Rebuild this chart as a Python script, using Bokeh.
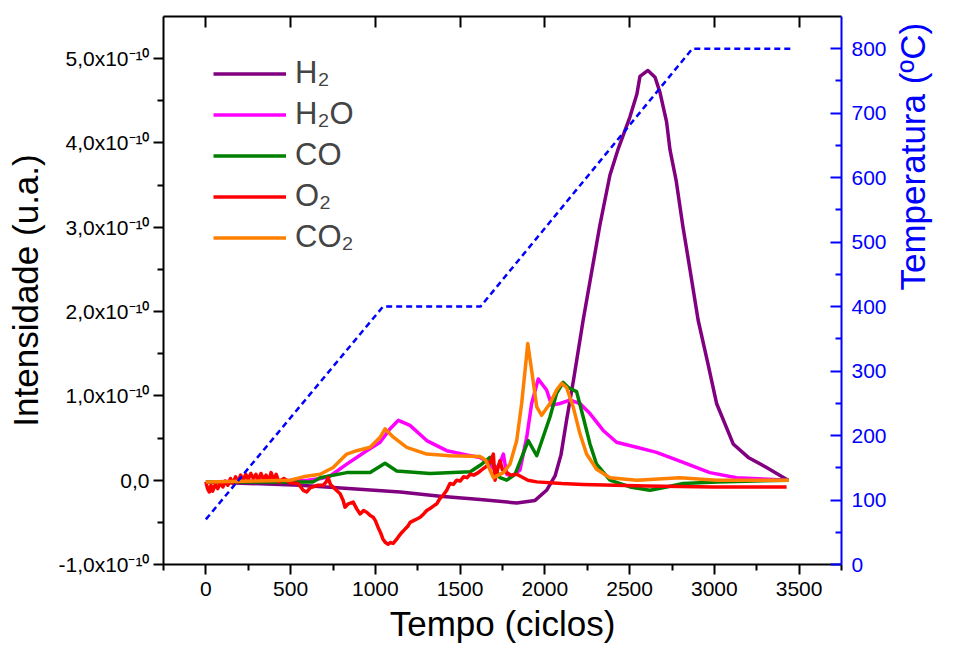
import math
from bokeh.plotting import figure
from bokeh.models import (Range1d, LinearAxis, FixedTicker, CustomJSTickFormatter,
                          Legend, LegendItem)
from bokeh.embed import file_html
from bokeh.resources import INLINE

# ---------------- data (intensity values in units of 1e-10 a.u.) ----------------
H2_T = [0, 556, 1146, 1382, 1618, 1834, 1942, 2010, 2060, 2095, 2128, 2170, 2226, 2325, 2384,
        2431, 2502, 2543, 2561, 2608, 2650, 2679, 2718, 2738, 2774, 2815, 2856, 2880, 2904, 2960,
        3013, 3111, 3200, 3308, 3435]
H2_V = [-0.02, -0.06, -0.14, -0.19, -0.23, -0.27, -0.24, -0.12, 0.05, 0.30, 0.71, 1.20, 1.90, 3.03, 3.62,
        3.92, 4.31, 4.58, 4.79, 4.86, 4.78, 4.60, 4.25, 3.92, 3.56, 3.00, 2.50, 2.20, 1.90, 1.40,
        0.91, 0.43, 0.27, 0.15, 0.0]

H2O_T = [0, 300, 600, 680, 733, 831, 949, 1028, 1087, 1136, 1204, 1303, 1421, 1539, 1617,
         1660, 1706, 1735, 1755, 1775, 1806, 1853, 1893, 1922, 1961, 2010, 2040, 2089, 2148, 2207,
         2266, 2344, 2423, 2541, 2659, 2816, 2973, 3131, 3440]
H2O_V = [-0.02, -0.01, 0.0, 0.02, 0.05, 0.19, 0.35, 0.45, 0.61, 0.71, 0.65, 0.47, 0.35, 0.30, 0.27,
         0.22, 0.12, 0.20, 0.31, 0.07, 0.05, 0.12, 0.51, 0.91, 1.20, 1.07, 0.89, 0.91, 0.95, 0.91,
         0.79, 0.59, 0.45, 0.39, 0.33, 0.21, 0.09, 0.03, 0.0]

CO_T = [0, 300, 633, 674, 831, 969, 1057, 1126, 1322, 1560, 1627, 1676, 1735, 1775, 1824,
        1902, 1952, 2030, 2069, 2108, 2138, 2187, 2226, 2266, 2305, 2384, 2502, 2620, 2718, 2816,
        3013, 3440]
CO_V = [-0.02, -0.02, -0.02, 0.03, 0.09, 0.09, 0.20, 0.11, 0.08, 0.10, 0.19, 0.27, 0.03, 0.0, 0.07,
        0.47, 0.29, 0.75, 1.03, 1.16, 1.10, 1.05, 0.75, 0.43, 0.19, 0.0, -0.08, -0.12, -0.08, -0.04,
        -0.02, 0.0]

O2_T = [0, 10, 20, 30, 40, 55, 70, 85, 100, 115,
        130, 145, 160, 175, 190, 205, 220, 235, 250, 265,
        280, 295, 310, 325, 340, 355, 370, 385, 400, 415,
        430, 460, 497, 544, 574, 595, 615, 633, 660, 692,
        710, 721, 735, 751, 770, 792, 810, 821, 840, 869,
        890, 910, 930, 949, 970, 987, 1000, 1016, 1030, 1045,
        1060, 1075, 1090, 1105, 1126, 1140, 1156, 1175, 1190, 1205,
        1225, 1245, 1264, 1285, 1303, 1320, 1340, 1362, 1380, 1400,
        1421, 1440, 1460, 1480, 1500, 1520, 1540, 1560, 1580, 1607,
        1625, 1645, 1665, 1680, 1696, 1706, 1720, 1735, 1750, 1775,
        1800, 1834, 1900, 1952, 2100, 2226, 2600, 3000, 3426]
O2_V = [-0.02, -0.10, -0.14, -0.06, -0.13, -0.05, -0.10, -0.03, -0.08, -0.01,
        -0.06, 0.02, -0.04, 0.04, -0.02, 0.06, 0.00, 0.07, 0.01, 0.08,
        0.02, 0.07, 0.00, 0.08, 0.01, 0.06, -0.01, 0.09, 0.00, 0.07,
        -0.02, 0.02, -0.03, -0.04, -0.12, -0.14, -0.09, -0.08, -0.06, -0.06,
        -0.02, 0.03, -0.05, -0.08, -0.12, -0.16, -0.24, -0.32, -0.28, -0.26,
        -0.34, -0.40, -0.36, -0.38, -0.42, -0.44, -0.48, -0.56, -0.62, -0.70,
        -0.74, -0.76, -0.74, -0.75, -0.70, -0.66, -0.62, -0.58, -0.55, -0.50,
        -0.48, -0.46, -0.44, -0.40, -0.36, -0.34, -0.31, -0.28, -0.22, -0.18,
        -0.12, -0.04, -0.05, 0.00, -0.01, 0.04, 0.03, 0.07, 0.06, 0.09,
        0.12, 0.15, 0.18, 0.22, 0.31, 0.00, 0.12, 0.23, 0.12, 0.09,
        0.06, 0.07, 0.0, -0.02, -0.04, -0.05, -0.07, -0.08, -0.08]

CO2_T = [0, 300, 497, 574, 674, 751, 831, 890, 969, 1028,
         1057, 1106, 1185, 1303, 1440, 1617, 1650, 1696, 1755, 1794,
         1834, 1863, 1883, 1899, 1922, 1952, 1981, 2030, 2069, 2099,
         2128, 2167, 2207, 2246, 2305, 2384, 2541, 2797, 3013, 3440]
CO2_V = [-0.02, -0.01, 0.0, 0.04, 0.07, 0.15, 0.31, 0.35, 0.39, 0.51,
         0.61, 0.51, 0.39, 0.31, 0.29, 0.28, 0.24, 0.03, 0.09, 0.19,
         0.47, 0.91, 1.30, 1.62, 1.30, 0.87, 0.77, 0.91, 1.07, 1.15,
         1.10, 0.87, 0.55, 0.31, 0.13, 0.03, 0.0, 0.03, 0.0, 0.0]

TEMP_T = [0, 1045, 1620, 2870, 3450]
TEMP_C = [70, 400, 400, 800, 800]

SERIES = ["H₂", "H₂O", "CO", "O₂", "CO₂"]
COLORS = ["#800080", "#FF00FF", "#008000", "#FF0000", "#FF8000"]

X_TICKS = [0, 500, 1000, 1500, 2000, 2500, 3000, 3500]
X_MINOR = [-250, 250, 750, 1250, 1750, 2250, 2750, 3250, 3750]
Y_TICKS = [-1.0e-10, 0.0, 1.0e-10, 2.0e-10, 3.0e-10, 4.0e-10, 5.0e-10]
Y_TICK_LABELS = ["-1,0x10⁻¹⁰", "0,0", "1,0x10⁻¹⁰", "2,0x10⁻¹⁰", "3,0x10⁻¹⁰",
                 "4,0x10⁻¹⁰", "5,0x10⁻¹⁰"]
Y_MINOR = [-0.5e-10, 0.5e-10, 1.5e-10, 2.5e-10, 3.5e-10, 4.5e-10]
T_TICKS = [0, 100, 200, 300, 400, 500, 600, 700, 800]
T_MINOR = [50, 150, 250, 350, 450, 550, 650, 750]

UNIT = 1e-10
FONT = "Liberation Sans"

p = figure(width=954, height=651, output_backend="svg", toolbar_location=None,
           x_range=Range1d(-250, 3750), y_range=Range1d(-1.0e-10, 5.5e-10),
           x_axis_type=None, y_axis_type=None,
           min_border_left=163, min_border_right=113, min_border_top=16, min_border_bottom=87)
p.extra_y_ranges = {"temp": Range1d(0, 850)}
p.outline_line_color = None
p.background_fill_color = "white"


def style_axis(ax, color="black"):
    ax.axis_line_width = 2
    ax.axis_line_color = color
    ax.major_tick_line_width = 2
    ax.minor_tick_line_width = 2
    ax.major_tick_line_color = color
    ax.minor_tick_line_color = color
    ax.major_label_text_font = FONT
    ax.major_label_text_font_size = "21px"
    ax.major_label_text_color = color
    ax.axis_label_text_font = FONT
    ax.axis_label_text_font_size = "35px"
    ax.axis_label_text_font_style = "normal"
    ax.axis_label_text_color = color


# bottom axis
xb = LinearAxis(ticker=FixedTicker(ticks=X_TICKS, minor_ticks=X_MINOR), axis_label="Tempo (ciclos)")
style_axis(xb)
xb.major_tick_out = 10
xb.major_tick_in = 0
xb.minor_tick_out = 6
xb.minor_tick_in = 0
xb.major_label_standoff = 7
xb.axis_label_standoff = 5
p.add_layout(xb, "below")

# top axis (mirror, ticks inward, no labels)
xt = LinearAxis(ticker=FixedTicker(ticks=X_TICKS, minor_ticks=[]),
                formatter=CustomJSTickFormatter(code="return '';"))
style_axis(xt)
xt.major_tick_out = 0
xt.major_tick_in = 11
xt.minor_tick_out = 0
xt.minor_tick_in = 0
xt.major_label_standoff = 0
p.add_layout(xt, "above")

# left axis
yl = LinearAxis(ticker=FixedTicker(ticks=Y_TICKS, minor_ticks=Y_MINOR),
                formatter=CustomJSTickFormatter(args=dict(tv=Y_TICKS, tl=Y_TICK_LABELS), code="""
const i = tv.findIndex(v => Math.abs(v - tick) < 1e-14);
return i >= 0 ? tl[i] : "";
"""),
                axis_label="Intensidade (u.a.)")
style_axis(yl)
yl.major_tick_out = 10
yl.major_tick_in = 0
yl.minor_tick_out = 6
yl.minor_tick_in = 0
yl.major_label_standoff = 4
yl.axis_label_standoff = 10
p.add_layout(yl, "left")

# right axis (temperature)
yr = LinearAxis(y_range_name="temp", ticker=FixedTicker(ticks=T_TICKS, minor_ticks=T_MINOR),
                axis_label="Temperatura (ºC)")
style_axis(yr, "#0000FF")
yr.major_tick_out = 0
yr.major_tick_in = 11
yr.minor_tick_out = 0
yr.minor_tick_in = 6
yr.major_label_standoff = 10
yr.axis_label_standoff = 23
yr.axis_label_orientation = math.pi / 2
p.add_layout(yr, "right")

series = [(H2_T, H2_V), (H2O_T, H2O_V), (CO_T, CO_V), (O2_T, O2_V), (CO2_T, CO2_V)]
items = []
for (ts, vs), name, col in zip(series, SERIES, COLORS):
    r = p.line(ts, [v * UNIT for v in vs], line_color=col, line_width=3.5, line_join="round")
    items.append(LegendItem(label=name, renderers=[r]))

p.line(TEMP_T, TEMP_C, y_range_name="temp", line_color="#0000FF", line_width=2.5, line_dash="6 4")

legend = Legend(items=items, location=(50, 309), padding=0, margin=0, spacing=5,
                glyph_width=73, glyph_height=33, label_height=33, label_standoff=9,
                label_text_font=FONT, label_text_font_size="31px",
                border_line_color=None, background_fill_alpha=0)
p.add_layout(legend)

open("out.html", "w").write(file_html(p, INLINE))
